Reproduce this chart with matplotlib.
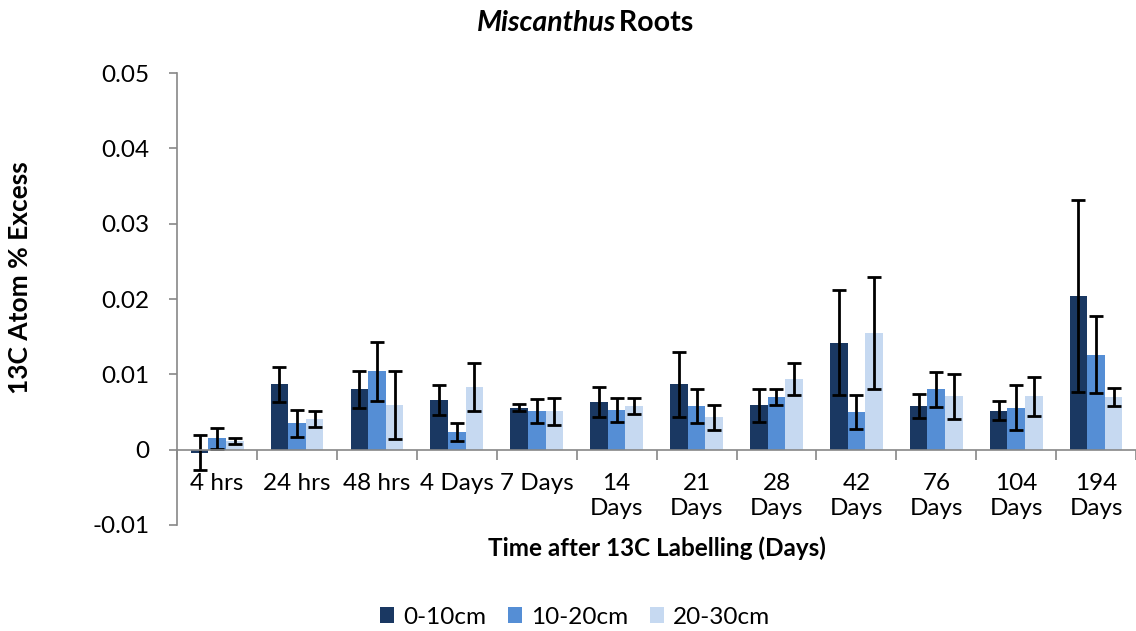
import numpy as np
import matplotlib
matplotlib.use("Agg")
import matplotlib.pyplot as plt

plt.rcParams['font.family'] = ['Lato', 'DejaVu Sans']

# sampling times and soil depths
times = ['4 hrs', '24 hrs', '48 hrs', '4 Days', '7 Days', '14\nDays', '21\nDays',
         '28\nDays', '42\nDays', '76\nDays', '104\nDays', '194\nDays']
depths = ['0-10cm', '10-20cm', '20-30cm']

# mean 13C atom % excess per depth
mean_0_10 = [-0.0004, 0.0087, 0.0080, 0.0066, 0.0056, 0.0063, 0.0087,
             0.0059, 0.0142, 0.0058, 0.0052, 0.0204]
mean_10_20 = [0.0015, 0.0035, 0.0104, 0.0024, 0.0051, 0.0053, 0.0058,
              0.0070, 0.0050, 0.0080, 0.0056, 0.0126]
mean_20_30 = [0.0012, 0.0041, 0.0059, 0.0083, 0.0051, 0.0058, 0.0043,
              0.0094, 0.0155, 0.0071, 0.0071, 0.0070]

# standard errors
err_0_10 = [0.0023, 0.0023, 0.0025, 0.0020, 0.0005, 0.0020, 0.0043,
            0.0022, 0.0070, 0.0016, 0.0013, 0.0128]
err_10_20 = [0.0014, 0.0018, 0.0039, 0.0012, 0.0016, 0.0016, 0.0023,
             0.0011, 0.0023, 0.0023, 0.0030, 0.0051]
err_20_30 = [0.0004, 0.0011, 0.0045, 0.0032, 0.0018, 0.0010, 0.0017,
             0.0021, 0.0074, 0.0030, 0.0026, 0.0012]

means = [mean_0_10, mean_10_20, mean_20_30]
errs = [err_0_10, err_10_20, err_20_30]
colors = ['#1a3862', '#558ed5', '#c6d9f1']

fig = plt.figure(figsize=(11.36, 6.31), dpi=100)
ax = fig.add_axes([0.156, 0.168, 0.844, 0.716])

x = np.arange(len(times))
width = 0.22
for i in range(3):
    ax.bar(x + (i - 1) * width, means[i], width, color=colors[i], label=depths[i],
           yerr=errs[i], capsize=5,
           error_kw=dict(ecolor='black', elinewidth=2, capthick=2), zorder=2)

ax.set_xlim(-0.5, len(times) - 0.5)
ax.set_ylim(-0.01, 0.05)
ax.set_yticks([-0.01, 0, 0.01, 0.02, 0.03, 0.04, 0.05])
ax.set_yticklabels(['-0.01', '0', '0.01', '0.02', '0.03', '0.04', '0.05'], fontsize=17.5)

# category axis sits on zero, boundaries as ticks
ax.spines['bottom'].set_position(('data', 0))
ax.spines['top'].set_visible(False)
ax.spines['right'].set_visible(False)
for s in ['left', 'bottom']:
    ax.spines[s].set_color('#888888')
    ax.spines[s].set_linewidth(1.2)
ax.set_xticks(np.arange(len(times) + 1) - 0.5)
ax.set_xticklabels([])
ax.set_xticks(x, minor=True)
ax.set_xticklabels(times, minor=True, fontsize=17.5, linespacing=1.2, va='top')
ax.tick_params(axis='x', which='major', length=7, color='#888888', width=1.2)
ax.tick_params(axis='x', which='minor', length=0, pad=17)
ax.tick_params(axis='y', length=6, color='#888888', width=1.2, pad=14)

fig.text(0.542, 0.963, 'Miscanthus', fontsize=20.5, fontweight='bold', style='italic',
         ha='right', va='center')
fig.text(0.539, 0.963, ' Roots', fontsize=20.5, fontweight='bold', ha='left', va='center')
fig.text(0.018, 0.56, '13C Atom % Excess', rotation=90, fontsize=19,
         fontweight='bold', ha='center', va='center')
fig.text(0.578, 0.131, 'Time after 13C Labelling (Days)', fontsize=17.5,
         fontweight='bold', ha='center', va='center')

fig.legend(loc='center', bbox_to_anchor=(0.506, 0.022), ncol=3, frameon=False,
           fontsize=17.5, handlelength=0.6, handleheight=0.6, handletextpad=0.35,
           columnspacing=0.9)

plt.savefig('out.png', dpi=100)
